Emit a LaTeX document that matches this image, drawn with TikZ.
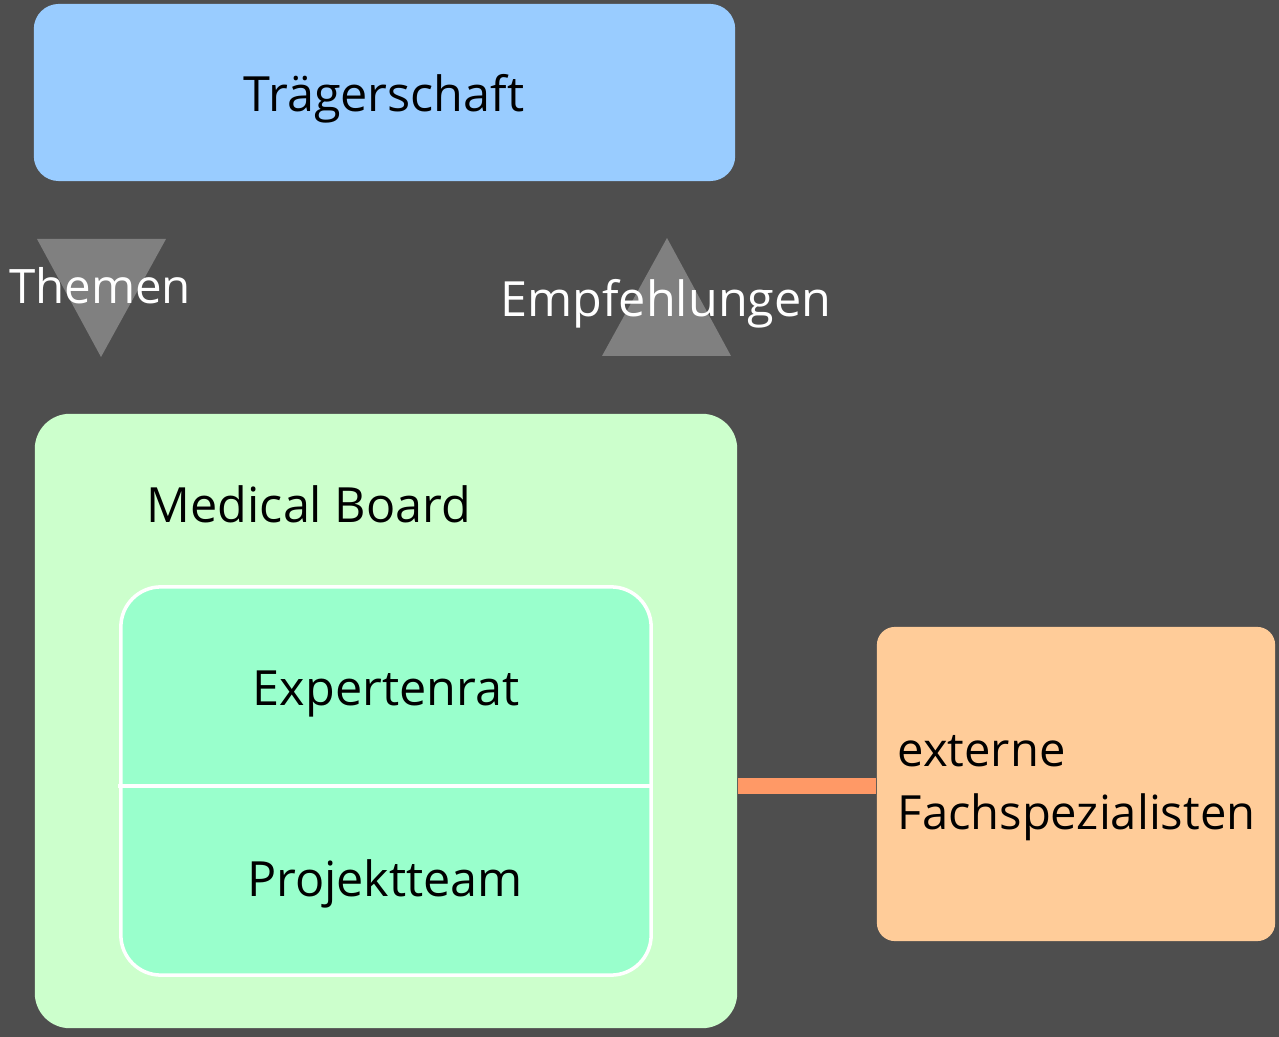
\documentclass[tikz,border=0pt]{standalone}
\usepackage{fontspec}
\setmainfont{Open Sans}
\usetikzlibrary{positioning}
\definecolor{bggray}{HTML}{4E4E4E}
\definecolor{tribox}{HTML}{808080}
\definecolor{traeger}{HTML}{99CCFF}
\definecolor{board}{HTML}{CCFFCC}
\definecolor{expert}{HTML}{99FFCC}
\definecolor{extern}{HTML}{FFCC99}
\definecolor{link}{HTML}{FF9966}
\tikzset{
  box/.style={rounded corners=#1,inner sep=0pt},
  box/.default=0.25cm,
  lbl/.style={font=\fontsize{13.8}{17}\selectfont},
  flow/.style={fill=tribox}
}
\begin{document}
\begin{tikzpicture}[x=0.01cm,y=-0.01cm]
    \fill[bggray] (0,0) rectangle (1279,1037);
    \useasboundingbox (0,0) rectangle (1279,1037);
    %% Traegerschaft, on top
    \node[box,fill=traeger,minimum width=7.01cm,minimum height=1.77cm]
        (traeger) at (384.5,92.5) {};
    \node[lbl] (traegertxt) at (384,99) {Trägerschaft};
    %% flow markers
    \fill[flow] (37,239) -- (166,239) -- (101,357) -- cycle;
    \fill[flow] (602,356) -- (731,356) -- (667,238) -- cycle;
    \node[lbl,text=white,font=\fontsize{13.5}{17}\selectfont]
        (themen) at (100,286) {Themen};
    \node[lbl,text=white] (empf) at (666,304) {Empfehlungen};
    %% Medical Board, below
    \node[box=0.35cm,fill=board,minimum width=7.02cm,minimum height=6.14cm]
        (board) at (386,721) {};
    \node[lbl] (mb) at (309,504) {Medical Board};
    \node[box=0.4cm,fill=expert,draw=white,line width=1pt,
        minimum width=5.30cm,minimum height=3.88cm] (inner) at (386,781) {};
    \coordinate (divl) at (118,786);
    \coordinate (divr) at (inner.east |- divl);
    \draw[white,line width=1pt] (divl) -- (divr);
    \node[lbl] (expertenrat) at (386,694) {Expertenrat};
    \node[lbl] (projekt) at (385,884) {Projektteam};
    %% externe Fachspezialisten, on right
    \node[box=0.18cm,fill=extern,minimum width=3.98cm,minimum height=3.14cm]
        (ext) at (1076,784) {};
    \node[lbl,align=left,anchor=west,inner sep=0pt,
        font=\fontsize{13.4}{17}\selectfont] (fach) at (897,788)
        {externe\\[1pt]Fachspezialisten};
    \draw[link,line width=0.15cm] (divl -| board.east) -- (divl -| ext.west);
\end{tikzpicture}
\end{document}
